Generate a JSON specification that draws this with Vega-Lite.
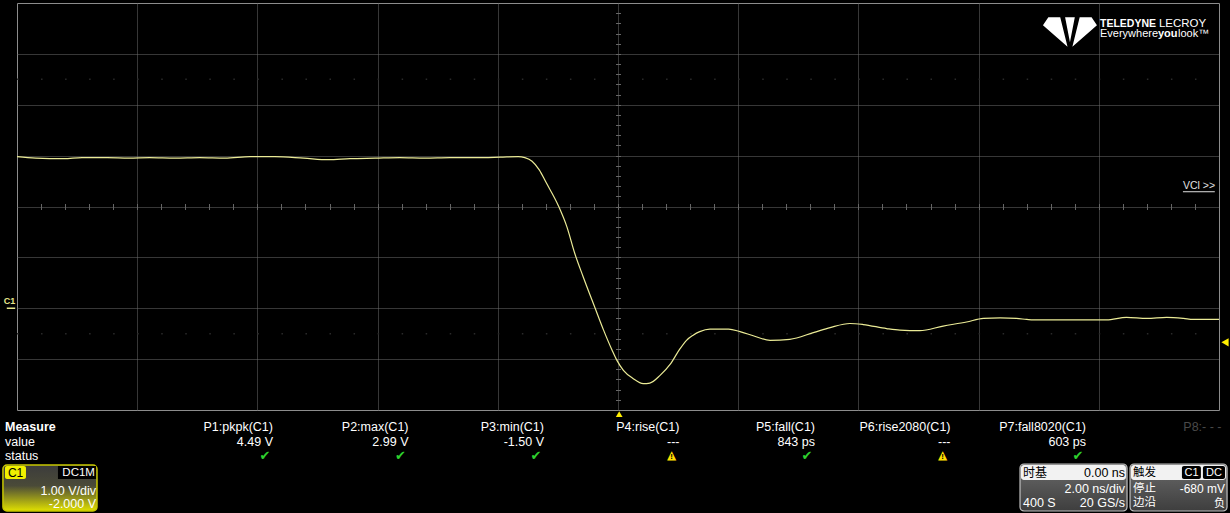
{
  "$schema": "https://vega.github.io/schema/vega-lite/v6.json",
  "width": 1202,
  "height": 407,
  "autosize": {"type": "none"},
  "padding": {"left": 17, "top": 3, "right": 11, "bottom": 103},
  "background": "#000000",
  "data": {"values": [{}]},
  "datasets": {
    "trace": [
      {"t": -10.0, "v": 2.98}, {"t": -9.69, "v": 2.95}, {"t": -9.22, "v": 2.94}, {"t": -8.92, "v": 2.96},
      {"t": -8.5, "v": 2.96}, {"t": -8.14, "v": 2.95}, {"t": -7.79, "v": 2.96}, {"t": -7.37, "v": 2.95},
      {"t": -6.96, "v": 2.96}, {"t": -6.54, "v": 2.95}, {"t": -6.12, "v": 2.98}, {"t": -5.71, "v": 2.98},
      {"t": -5.23, "v": 2.95}, {"t": -4.82, "v": 2.92}, {"t": -4.46, "v": 2.94}, {"t": -4.04, "v": 2.95},
      {"t": -3.63, "v": 2.96}, {"t": -3.21, "v": 2.95}, {"t": -2.8, "v": 2.96}, {"t": -2.38, "v": 2.96},
      {"t": -1.96, "v": 2.97}, {"t": -1.66, "v": 2.98}, {"t": -1.55, "v": 2.96}, {"t": -1.43, "v": 2.89},
      {"t": -1.31, "v": 2.72}, {"t": -1.2, "v": 2.48}, {"t": -0.99, "v": 2.01}, {"t": -0.85, "v": 1.6},
      {"t": -0.72, "v": 1.08}, {"t": -0.58, "v": 0.62}, {"t": -0.38, "v": 0.0}, {"t": -0.24, "v": -0.43},
      {"t": -0.1, "v": -0.82}, {"t": -0.02, "v": -1.02}, {"t": 0.09, "v": -1.22}, {"t": 0.25, "v": -1.38},
      {"t": 0.42, "v": -1.48}, {"t": 0.53, "v": -1.47}, {"t": 0.7, "v": -1.32}, {"t": 0.87, "v": -1.1},
      {"t": 1.03, "v": -0.8}, {"t": 1.14, "v": -0.63}, {"t": 1.25, "v": -0.53}, {"t": 1.36, "v": -0.46},
      {"t": 1.53, "v": -0.41}, {"t": 1.84, "v": -0.41}, {"t": 2.03, "v": -0.46}, {"t": 2.25, "v": -0.54},
      {"t": 2.53, "v": -0.63}, {"t": 2.86, "v": -0.61}, {"t": 3.25, "v": -0.48}, {"t": 3.53, "v": -0.38},
      {"t": 3.86, "v": -0.3}, {"t": 4.08, "v": -0.32}, {"t": 4.47, "v": -0.4}, {"t": 4.69, "v": -0.43},
      {"t": 5.02, "v": -0.44}, {"t": 5.41, "v": -0.35}, {"t": 5.8, "v": -0.27}, {"t": 6.08, "v": -0.2},
      {"t": 6.36, "v": -0.19}, {"t": 6.63, "v": -0.2}, {"t": 6.8, "v": -0.22}, {"t": 6.91, "v": -0.23},
      {"t": 7.47, "v": -0.23}, {"t": 8.13, "v": -0.23}, {"t": 8.46, "v": -0.18}, {"t": 8.8, "v": -0.2},
      {"t": 9.13, "v": -0.18}, {"t": 9.41, "v": -0.2}, {"t": 9.57, "v": -0.22}, {"t": 10.0, "v": -0.22}
    ],
    "params": [
      {"p": 1, "name": "P1:pkpk(C1)", "value": "4.49 V", "status": "ok"},
      {"p": 2, "name": "P2:max(C1)", "value": "2.99 V", "status": "ok"},
      {"p": 3, "name": "P3:min(C1)", "value": "-1.50 V", "status": "ok"},
      {"p": 4, "name": "P4:rise(C1)", "value": "---", "status": "warn"},
      {"p": 5, "name": "P5:fall(C1)", "value": "843 ps", "status": "ok"},
      {"p": 6, "name": "P6:rise2080(C1)", "value": "---", "status": "warn"},
      {"p": 7, "name": "P7:fall8020(C1)", "value": "603 ps", "status": "ok"},
      {"p": 8, "name": "P8:- - -", "value": "", "status": "none"}
    ]
  },
  "config": {
    "font": "Liberation Sans",
    "view": {"stroke": "#8c8c8c", "strokeWidth": 1, "fill": "#000000"}
  },
  "resolve": {"scale": {"x": "independent", "y": "independent"}},
  "layer": [
    {
      "resolve": {"axis": {"x": "independent", "y": "independent"}},
      "layer": [
        {
          "mark": {"type": "rule", "color": "#2a2a2a", "strokeDash": [1.5, 22.54], "strokeWidth": 1.5},
          "encoding": {
            "x": {"datum": -10, "type": "quantitative", "axis": null},
            "x2": {"datum": 10},
            "y": {"datum": 4.5, "type": "quantitative", "axis": null}
          }
        },
        {
          "mark": {"type": "rule", "color": "#2a2a2a", "strokeDash": [1.5, 22.54], "strokeWidth": 1.5},
          "encoding": {
            "x": {"datum": -10, "type": "quantitative", "axis": null},
            "x2": {"datum": 10},
            "y": {"datum": -0.5, "type": "quantitative", "axis": null}
          }
        },
        {
          "data": {"name": "trace"},
          "mark": {"type": "line", "opacity": 0},
          "encoding": {
            "x": {
              "field": "t", "type": "quantitative",
              "scale": {"domain": [-10, 10], "nice": false, "zero": false},
              "axis": {
                "orient": "top", "offset": -206.5, "title": null, "labels": false, "grid": false, "domain": false,
                "ticks": true, "tickSize": 6, "tickColor": "#666666", "tickWidth": 1,
                "values": [-9.6,-9.2,-8.8,-8.4,-8,-7.6,-7.2,-6.8,-6.4,-6,-5.6,-5.2,-4.8,-4.4,-4,-3.6,-3.2,-2.8,-2.4,-2,-1.6,-1.2,-0.8,-0.4,0,0.4,0.8,1.2,1.6,2,2.4,2.8,3.2,3.6,4,4.4,4.8,5.2,5.6,6,6.4,6.8,7.2,7.6,8,8.4,8.8,9.2,9.6]
              }
            },
            "y": {
              "field": "v", "type": "quantitative",
              "scale": {"domain": [-2, 6], "nice": false, "zero": false},
              "axis": {
                "orient": "right", "offset": -603.5, "title": null, "labels": false, "grid": false, "domain": false,
                "ticks": true, "tickSize": 5, "tickColor": "#666666", "tickWidth": 1,
                "values": [-1.8,-1.6,-1.4,-1.2,-1,-0.8,-0.6,-0.4,-0.2,0,0.2,0.4,0.6,0.8,1,1.2,1.4,1.6,1.8,2,2.2,2.4,2.6,2.8,3,3.2,3.4,3.6,3.8,4,4.2,4.4,4.6,4.8,5,5.2,5.4,5.6,5.8]
              }
            }
          }
        },
        {
          "data": {"name": "trace"},
          "mark": {"type": "line", "color": "#ebeb96", "strokeWidth": 1.2, "interpolate": "monotone", "clip": true},
          "encoding": {
            "x": {
              "field": "t", "type": "quantitative",
              "scale": {"domain": [-10, 10], "nice": false, "zero": false},
              "axis": {
                "orient": "bottom", "title": null, "labels": false, "ticks": false, "domain": false,
                "grid": true, "gridColor": "#6e6e6e", "gridDash": [1, 1], "gridWidth": 1, "gridOpacity": 1,
                "values": [-8, -6, -4, -2, 0, 2, 4, 6, 8]
              }
            },
            "y": {
              "field": "v", "type": "quantitative",
              "scale": {"domain": [-2, 6], "nice": false, "zero": false},
              "axis": {
                "orient": "left", "title": null, "labels": false, "ticks": false, "domain": false,
                "grid": true, "gridColor": "#6e6e6e", "gridDash": [1, 1], "gridWidth": 1, "gridOpacity": 1,
                "values": [-1, 0, 1, 2, 3, 4, 5]
              }
            }
          }
        },
        {
          "mark": {"type": "point", "shape": "triangle-up", "filled": true, "size": 45, "color": "#ffee00", "opacity": 1},
          "encoding": {
            "x": {"datum": 0.02, "type": "quantitative", "axis": null},
            "y": {"datum": -2.08, "type": "quantitative", "axis": null}
          }
        },
        {
          "mark": {"type": "point", "shape": "triangle-left", "filled": true, "size": 70, "color": "#ffee00", "opacity": 1},
          "encoding": {
            "x": {"datum": 10.1, "type": "quantitative", "axis": null},
            "y": {"datum": -0.67, "type": "quantitative", "axis": null}
          }
        },
        {
          "mark": {"type": "text", "text": "C1", "fontSize": 9, "fontWeight": "bold", "color": "#e6e68c", "align": "center", "baseline": "middle"},
          "encoding": {
            "x": {"datum": -10.125, "type": "quantitative", "axis": null},
            "y": {"datum": 0.14, "type": "quantitative", "axis": null}
          }
        },
        {
          "mark": {"type": "rule", "color": "#e6e68c", "strokeWidth": 1.5},
          "encoding": {
            "x": {"datum": -10.17, "type": "quantitative", "axis": null},
            "x2": {"datum": -10.03},
            "y": {"datum": 0, "type": "quantitative", "axis": null}
          }
        },
        {
          "mark": {"type": "text", "text": "VCl >>", "fontSize": 10.5, "color": "#e0e0e0", "align": "center", "baseline": "middle"},
          "encoding": {
            "x": {"datum": 9.667, "type": "quantitative", "axis": null},
            "y": {"datum": 2.41, "type": "quantitative", "axis": null}
          }
        },
        {
          "mark": {"type": "rule", "color": "#e0e0e0", "strokeWidth": 1},
          "encoding": {
            "x": {"datum": 9.4, "type": "quantitative", "axis": null},
            "x2": {"datum": 9.93},
            "y": {"datum": 2.29, "type": "quantitative", "axis": null}
          }
        },
        {
          "mark": {"type": "point", "shape": "M-1,-0.25 L-0.8,-0.55 L-0.36,-0.55 L-0.09,0.55 Z M-0.18,-0.55 L0.18,-0.55 L0,0.38 Z M1,-0.25 L0.8,-0.55 L0.36,-0.55 L0.09,0.55 Z", "filled": true, "size": 2916, "color": "#ffffff", "opacity": 1, "strokeWidth": 0},
          "encoding": {
            "x": {"datum": 7.52, "type": "quantitative", "axis": null},
            "y": {"datum": 5.43, "type": "quantitative", "axis": null}
          }
        },
        {
          "mark": {"type": "text", "text": "TELEDYNE", "fontSize": 10.5, "fontWeight": "bold", "color": "#ffffff", "align": "left", "baseline": "middle"},
          "encoding": {
            "x": {"datum": 8.02, "type": "quantitative", "axis": null},
            "y": {"datum": 5.593, "type": "quantitative", "axis": null}
          }
        },
        {
          "mark": {"type": "text", "text": "LECROY", "fontSize": 11.5, "color": "#ffffff", "align": "left", "baseline": "middle"},
          "encoding": {
            "x": {"datum": 9.0, "type": "quantitative", "axis": null},
            "y": {"datum": 5.593, "type": "quantitative", "axis": null}
          }
        },
        {
          "mark": {"type": "text", "text": "Everywhere", "fontSize": 11, "color": "#ffffff", "align": "left", "baseline": "middle"},
          "encoding": {
            "x": {"datum": 8.02, "type": "quantitative", "axis": null},
            "y": {"datum": 5.396, "type": "quantitative", "axis": null}
          }
        },
        {
          "mark": {"type": "text", "text": "you", "fontSize": 11, "fontWeight": "bold", "color": "#ffffff", "align": "left", "baseline": "middle"},
          "encoding": {
            "x": {"datum": 8.985, "type": "quantitative", "axis": null},
            "y": {"datum": 5.396, "type": "quantitative", "axis": null}
          }
        },
        {
          "mark": {"type": "text", "text": "look™", "fontSize": 11, "color": "#ffffff", "align": "left", "baseline": "middle"},
          "encoding": {
            "x": {"datum": 9.318, "type": "quantitative", "axis": null},
            "y": {"datum": 5.396, "type": "quantitative", "axis": null}
          }
        }
      ]
    },
    {
      "layer": [
        {
          "data": {"name": "params"},
          "mark": {"type": "text", "align": "right", "baseline": "middle", "fontSize": 12.5},
          "encoding": {
            "x": {"field": "p", "type": "quantitative", "scale": {"domain": [0, 8], "range": [120.5, 1204.5], "nice": false, "zero": false}, "axis": null},
            "y": {"datum": 0, "type": "quantitative", "scale": {"domain": [0, 6], "range": [424, 511], "nice": false, "zero": false}, "axis": null},
            "text": {"field": "name"},
            "color": {"condition": {"test": "datum.p == 8", "value": "#4a4a4a"}, "value": "#ffffff"}
          }
        },
        {
          "data": {"name": "params"},
          "mark": {"type": "text", "align": "right", "baseline": "middle", "fontSize": 12.5, "color": "#ffffff"},
          "encoding": {
            "x": {"field": "p", "type": "quantitative", "axis": null},
            "y": {"datum": 1, "type": "quantitative", "axis": null},
            "text": {"field": "value"}
          }
        },
        {
          "data": {"name": "params"},
          "transform": [{"filter": "datum.status == 'ok'"}],
          "mark": {"type": "text", "align": "center", "baseline": "middle", "fontSize": 13, "color": "#2ed12e", "dx": -8, "font": "DejaVu Sans"},
          "encoding": {
            "x": {"field": "p", "type": "quantitative", "axis": null},
            "y": {"datum": 2, "type": "quantitative", "axis": null},
            "text": {"value": "✔"}
          }
        },
        {
          "data": {"name": "params"},
          "transform": [{"filter": "datum.status == 'warn'"}],
          "mark": {"type": "text", "align": "center", "baseline": "middle", "fontSize": 12, "color": "#ffdd00", "dx": -8, "dy": -1, "font": "DejaVu Sans"},
          "encoding": {
            "x": {"field": "p", "type": "quantitative", "axis": null},
            "y": {"datum": 2, "type": "quantitative", "axis": null},
            "text": {"value": "▲"}
          }
        },
        {
          "data": {"name": "params"},
          "transform": [{"filter": "datum.status == 'warn'"}],
          "mark": {"type": "text", "align": "center", "baseline": "middle", "fontSize": 8, "fontWeight": "bold", "color": "#000000", "dx": -8, "dy": 1},
          "encoding": {
            "x": {"field": "p", "type": "quantitative", "axis": null},
            "y": {"datum": 2, "type": "quantitative", "axis": null},
            "text": {"value": "!"}
          }
        },
        {
          "mark": {"type": "text", "text": "Measure", "align": "left", "baseline": "middle", "fontSize": 12.5, "fontWeight": "bold", "color": "#ffffff"},
          "encoding": {"x": {"datum": -0.978, "type": "quantitative", "axis": null}, "y": {"datum": 0, "type": "quantitative", "axis": null}}
        },
        {
          "mark": {"type": "text", "text": "value", "align": "left", "baseline": "middle", "fontSize": 12.5, "color": "#ffffff"},
          "encoding": {"x": {"datum": -0.978, "type": "quantitative", "axis": null}, "y": {"datum": 1, "type": "quantitative", "axis": null}}
        },
        {
          "mark": {"type": "text", "text": "status", "align": "left", "baseline": "middle", "fontSize": 12.5, "color": "#ffffff"},
          "encoding": {"x": {"datum": -0.978, "type": "quantitative", "axis": null}, "y": {"datum": 2, "type": "quantitative", "axis": null}}
        },
        {
          "mark": {"type": "rect", "cornerRadius": 4, "stroke": "#c8c800", "strokeWidth": 1.5,
            "fill": {"gradient": "linear", "x1": 0, "y1": 0, "x2": 0, "y2": 1, "stops": [{"offset": 0, "color": "#3c3c3c"}, {"offset": 0.45, "color": "#4a4a38"}, {"offset": 1, "color": "#e0e000"}]}},
          "encoding": {"x": {"datum": -0.993, "type": "quantitative", "axis": null}, "x2": {"datum": -0.299}, "y": {"datum": 2.621, "type": "quantitative", "axis": null}, "y2": {"datum": 5.793}}
        },
        {
          "mark": {"type": "rect", "fill": "#f0f000", "cornerRadius": 2},
          "encoding": {"x": {"datum": -0.978, "type": "quantitative", "axis": null}, "x2": {"datum": -0.823}, "y": {"datum": 2.69, "type": "quantitative", "axis": null}, "y2": {"datum": 3.586}}
        },
        {
          "mark": {"type": "text", "text": "C1", "align": "center", "baseline": "middle", "fontSize": 12, "color": "#000000"},
          "encoding": {"x": {"datum": -0.9, "type": "quantitative", "axis": null}, "y": {"datum": 3.138, "type": "quantitative", "axis": null}}
        },
        {
          "mark": {"type": "rect", "fill": "#000000"},
          "encoding": {"x": {"datum": -0.587, "type": "quantitative", "axis": null}, "x2": {"datum": -0.306}, "y": {"datum": 2.69, "type": "quantitative", "axis": null}, "y2": {"datum": 3.586}}
        },
        {
          "mark": {"type": "text", "text": "DC1M", "align": "right", "baseline": "middle", "fontSize": 11.5, "color": "#ffffff"},
          "encoding": {"x": {"datum": -0.314, "type": "quantitative", "axis": null}, "y": {"datum": 3.138, "type": "quantitative", "axis": null}}
        },
        {
          "mark": {"type": "text", "text": "1.00 V/div", "align": "right", "baseline": "middle", "fontSize": 12.5, "color": "#ffffff"},
          "encoding": {"x": {"datum": -0.306, "type": "quantitative", "axis": null}, "y": {"datum": 4.414, "type": "quantitative", "axis": null}}
        },
        {
          "mark": {"type": "text", "text": "-2.000 V", "align": "right", "baseline": "middle", "fontSize": 12.5, "color": "#ffffff"},
          "encoding": {"x": {"datum": -0.306, "type": "quantitative", "axis": null}, "y": {"datum": 5.31, "type": "quantitative", "axis": null}}
        },
        {
          "mark": {"type": "rect", "cornerRadius": 4, "stroke": "#c0c0c0", "strokeWidth": 1.2,
            "fill": {"gradient": "linear", "x1": 0, "y1": 0, "x2": 0, "y2": 1, "stops": [{"offset": 0, "color": "#6a6a6a"}, {"offset": 1, "color": "#3e3e3e"}]}},
          "encoding": {"x": {"datum": 6.513, "type": "quantitative", "axis": null}, "x2": {"datum": 7.303}, "y": {"datum": 2.552, "type": "quantitative", "axis": null}, "y2": {"datum": 5.793}}
        },
        {
          "mark": {"type": "rect", "fill": "#f2f2f2", "cornerRadius": 3},
          "encoding": {"x": {"datum": 6.52, "type": "quantitative", "axis": null}, "x2": {"datum": 7.295}, "y": {"datum": 2.621, "type": "quantitative", "axis": null}, "y2": {"datum": 3.655}}
        },
        {
          "mark": {"type": "text", "text": "时基", "align": "left", "baseline": "middle", "fontSize": 12, "font": "Noto Sans CJK SC", "color": "#000000"},
          "encoding": {"x": {"datum": 6.535, "type": "quantitative", "axis": null}, "y": {"datum": 3.138, "type": "quantitative", "axis": null}}
        },
        {
          "mark": {"type": "text", "text": "0.00 ns", "align": "right", "baseline": "middle", "fontSize": 12.5, "color": "#000000"},
          "encoding": {"x": {"datum": 7.288, "type": "quantitative", "axis": null}, "y": {"datum": 3.138, "type": "quantitative", "axis": null}}
        },
        {
          "mark": {"type": "text", "text": "2.00 ns/div", "align": "right", "baseline": "middle", "fontSize": 12.5, "color": "#ffffff"},
          "encoding": {"x": {"datum": 7.288, "type": "quantitative", "axis": null}, "y": {"datum": 4.276, "type": "quantitative", "axis": null}}
        },
        {
          "mark": {"type": "text", "text": "400 S", "align": "left", "baseline": "middle", "fontSize": 12.5, "color": "#ffffff"},
          "encoding": {"x": {"datum": 6.535, "type": "quantitative", "axis": null}, "y": {"datum": 5.241, "type": "quantitative", "axis": null}}
        },
        {
          "mark": {"type": "text", "text": "20 GS/s", "align": "right", "baseline": "middle", "fontSize": 12.5, "color": "#ffffff"},
          "encoding": {"x": {"datum": 7.288, "type": "quantitative", "axis": null}, "y": {"datum": 5.241, "type": "quantitative", "axis": null}}
        },
        {
          "mark": {"type": "rect", "cornerRadius": 4, "stroke": "#c0c0c0", "strokeWidth": 1.2,
            "fill": {"gradient": "linear", "x1": 0, "y1": 0, "x2": 0, "y2": 1, "stops": [{"offset": 0, "color": "#6a6a6a"}, {"offset": 1, "color": "#3e3e3e"}]}},
          "encoding": {"x": {"datum": 7.325, "type": "quantitative", "axis": null}, "x2": {"datum": 8.041}, "y": {"datum": 2.552, "type": "quantitative", "axis": null}, "y2": {"datum": 5.793}}
        },
        {
          "mark": {"type": "rect", "fill": "#f2f2f2", "cornerRadius": 3},
          "encoding": {"x": {"datum": 7.332, "type": "quantitative", "axis": null}, "x2": {"datum": 8.033}, "y": {"datum": 2.621, "type": "quantitative", "axis": null}, "y2": {"datum": 3.655}}
        },
        {
          "mark": {"type": "text", "text": "触发", "align": "left", "baseline": "middle", "fontSize": 11.5, "font": "Noto Sans CJK SC", "color": "#000000"},
          "encoding": {"x": {"datum": 7.347, "type": "quantitative", "axis": null}, "y": {"datum": 3.138, "type": "quantitative", "axis": null}}
        },
        {
          "mark": {"type": "rect", "fill": "#000000", "cornerRadius": 2},
          "encoding": {"x": {"datum": 7.708, "type": "quantitative", "axis": null}, "x2": {"datum": 7.848}, "y": {"datum": 2.69, "type": "quantitative", "axis": null}, "y2": {"datum": 3.586}}
        },
        {
          "mark": {"type": "text", "text": "C1", "align": "center", "baseline": "middle", "fontSize": 11, "color": "#ffffff"},
          "encoding": {"x": {"datum": 7.779, "type": "quantitative", "axis": null}, "y": {"datum": 3.138, "type": "quantitative", "axis": null}}
        },
        {
          "mark": {"type": "rect", "fill": "#000000", "cornerRadius": 2},
          "encoding": {"x": {"datum": 7.863, "type": "quantitative", "axis": null}, "x2": {"datum": 8.026}, "y": {"datum": 2.69, "type": "quantitative", "axis": null}, "y2": {"datum": 3.586}}
        },
        {
          "mark": {"type": "text", "text": "DC", "align": "center", "baseline": "middle", "fontSize": 11, "color": "#ffffff"},
          "encoding": {"x": {"datum": 7.945, "type": "quantitative", "axis": null}, "y": {"datum": 3.138, "type": "quantitative", "axis": null}}
        },
        {
          "mark": {"type": "text", "text": "停止", "align": "left", "baseline": "middle", "fontSize": 11.5, "font": "Noto Sans CJK SC", "color": "#ffffff"},
          "encoding": {"x": {"datum": 7.347, "type": "quantitative", "axis": null}, "y": {"datum": 4.276, "type": "quantitative", "axis": null}}
        },
        {
          "mark": {"type": "text", "text": "-680 mV", "align": "right", "baseline": "middle", "fontSize": 12, "color": "#ffffff"},
          "encoding": {"x": {"datum": 8.026, "type": "quantitative", "axis": null}, "y": {"datum": 4.276, "type": "quantitative", "axis": null}}
        },
        {
          "mark": {"type": "text", "text": "边沿", "align": "left", "baseline": "middle", "fontSize": 11.5, "font": "Noto Sans CJK SC", "color": "#ffffff"},
          "encoding": {"x": {"datum": 7.347, "type": "quantitative", "axis": null}, "y": {"datum": 5.241, "type": "quantitative", "axis": null}}
        },
        {
          "mark": {"type": "text", "text": "负", "align": "right", "baseline": "middle", "fontSize": 11, "font": "Noto Sans CJK SC", "color": "#ffffff", "dy": 1},
          "encoding": {"x": {"datum": 8.026, "type": "quantitative", "axis": null}, "y": {"datum": 5.241, "type": "quantitative", "axis": null}}
        }
      ]
    }
  ]
}
